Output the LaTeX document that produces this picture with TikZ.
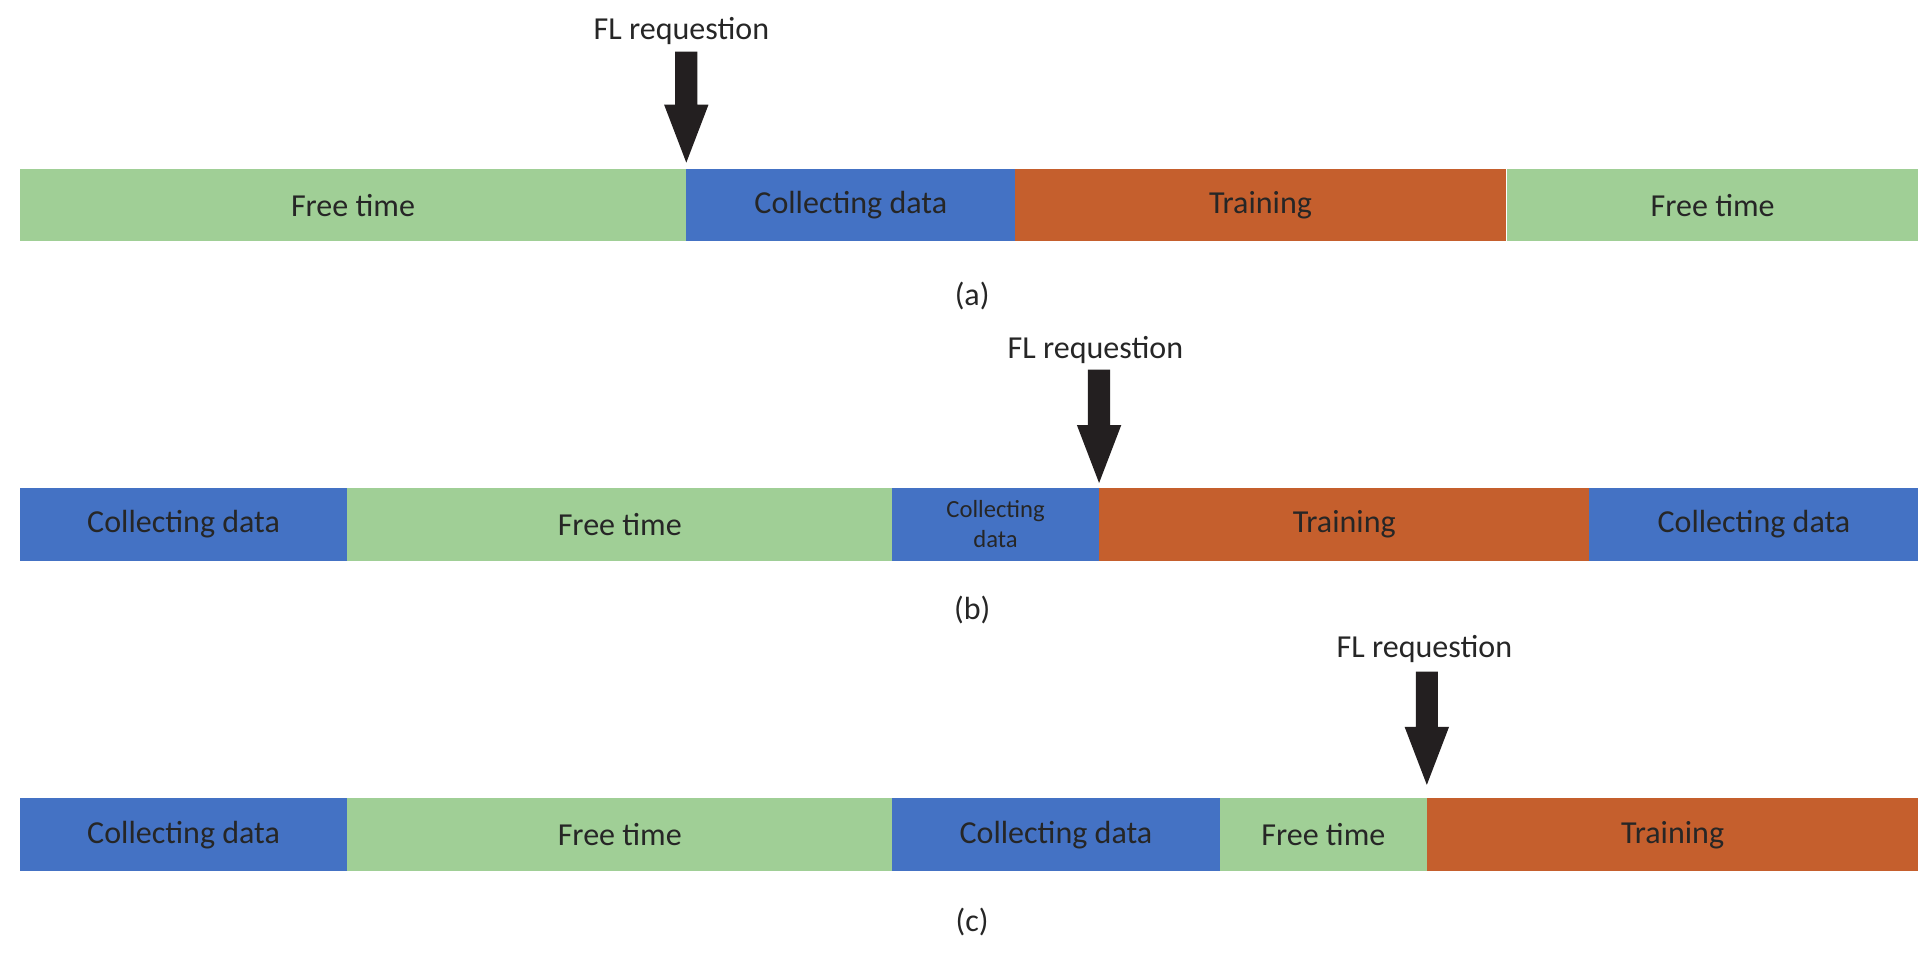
\documentclass[tikz,border=0pt]{standalone}
\usepackage{fontspec}
\setmainfont{Carlito}
\definecolor{fgreen}{HTML}{A0CF96}
\definecolor{cblue}{HTML}{4472C4}
\definecolor{torange}{HTML}{C55F2D}
\definecolor{arr}{HTML}{231F20}
\begin{document}
\begin{tikzpicture}[x=1pt,y=-1pt,
  seg/.style={draw=none,inner sep=0pt,font=\fontsize{26}{30}\selectfont,text=black!85},
  lbl/.style={font=\fontsize{26}{30}\selectfont,text=black!85,inner sep=0pt},
  req/.style={fill=arr,draw=none}]
\useasboundingbox (0,0) rectangle (1568,778);
\newcommand\segm[5]{\fill[#5] (#1,#3) rectangle (#2,#3+59);
  \node[seg] (#4) at ({(#1+#2)/2},#3+29.5) {};}
% (a)
\fill[fgreen] (16,137) rectangle (557,196); \node[seg] (a1) at (286.5,166.5) {Free time};
\fill[cblue] (557,137) rectangle (824,196); \node[seg] (a2) at (690.5,166.5) {Collecting data};
\fill[torange] (824,137) rectangle (1222,196); \node[seg] (a3) at (1023,166.5) {Training};
\fill[fgreen] (1223,137) rectangle (1557,196); \node[seg] (a4) at (1390,166.5) {Free time};
\node[lbl] (la) at (789,240) {(a)};
\node[lbl] (ra) at (553,25) {FL requestion};
\fill[req] (548,42) -- (566,42) -- (566,85) -- (575,85) -- (557,132) -- (539,85) -- (548,85) -- cycle;
% (b)
\fill[cblue] (16,396) rectangle (282,455); \node[seg] (b1) at (149,425.5) {Collecting data};
\fill[fgreen] (282,396) rectangle (724,455); \node[seg] (b2) at (503,425.5) {Free time};
\fill[cblue] (724,396) rectangle (892,455); \node[seg,font=\fontsize{20}{24}\selectfont,align=center] (b3) at (808,425.5) {Collecting\\data};
\fill[torange] (892,396) rectangle (1290,455); \node[seg] (b4) at (1091,425.5) {Training};
\fill[cblue] (1290,396) rectangle (1557,455); \node[seg] (b5) at (1423.5,425.5) {Collecting data};
\node[lbl] (lb) at (789,495) {(b)};
\node[lbl] (rb) at (889,284) {FL requestion};
\fill[req] (883,300) -- (901,300) -- (901,345) -- (910,345) -- (892,392) -- (874,345) -- (883,345) -- cycle;
% (c)
\fill[cblue] (16,648) rectangle (282,707); \node[seg] (c1) at (149,677.5) {Collecting data};
\fill[fgreen] (282,648) rectangle (724,707); \node[seg] (c2) at (503,677.5) {Free time};
\fill[cblue] (724,648) rectangle (990,707); \node[seg] (c3) at (857,677.5) {Collecting data};
\fill[fgreen] (990,648) rectangle (1158,707); \node[seg] (c4) at (1074,677.5) {Free time};
\fill[torange] (1158,648) rectangle (1557,707); \node[seg] (c5) at (1357.5,677.5) {Training};
\node[lbl] (lc) at (789,748) {(c)};
\node[lbl] (rc) at (1156,527) {FL requestion};
\fill[req] (1149,545) -- (1167,545) -- (1167,590) -- (1176,590) -- (1158,637) -- (1140,590) -- (1149,590) -- cycle;
\end{tikzpicture}
\end{document}
